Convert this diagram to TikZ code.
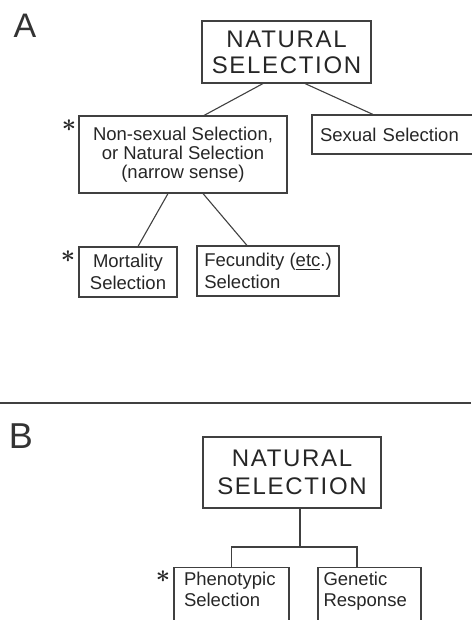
\documentclass[tikz,border=0pt]{standalone}
\usepackage{amsmath}
\usepackage{fontspec}
\setmainfont{Liberation Sans}
\newfontfamily\capsfont{Liberation Sans}[LetterSpace=7]
\begin{document}
\begin{tikzpicture}[x=1pt,y=-1pt]

        \useasboundingbox (0,0) rectangle (471,620);

        % panel letters and divider
        \node[text=black!80] (A) at (25,25.5) {\fontsize{34}{34}\selectfont A};
        \node[text=black!80] (B) at (21,436.5) {\fontsize{36}{36}\selectfont B};
        \draw[black!75,line width=1.1pt] (0,403) -- (471,403);

        \begin{scope}[every node/.style={draw=black!75,line width=1.1pt,text=black!85,inner sep=0pt,
                      font=\fontsize{18.5}{19}\selectfont}]
          \node (topA) at (286.5,52) [minimum width=169pt,minimum height=62pt,align=center,
                font=\capsfont\fontsize{24}{26}\selectfont] {NATURAL\\SELECTION};
          \node (nonsex) at (183,154.5) [minimum width=208pt,minimum height=77pt,align=center]
                {Non-sexual Selection,\\or Natural Selection\\(narrow sense)};
          \node (sexual) at (396,134.5) [text width=152pt,inner xsep=8pt,minimum height=39pt,align=left]
                {Sexual Selection};
          \node (mort) at (128,272) [minimum width=98pt,minimum height=50pt,align=center,
                font=\fontsize{18.5}{22}\selectfont] {Mortality\\Selection};
          \node (fec) at (268,271) [minimum width=142pt,minimum height=50pt,align=left,
                font=\fontsize{18.5}{22}\selectfont] {Fecundity (\underline{etc}.)\\Selection};

          \node (topB) at (292,472.5) [minimum width=178pt,minimum height=71pt,align=center,
                font=\capsfont\fontsize{24}{28}\selectfont] {NATURAL\\SELECTION};
          \node (phen) at (231.5,567) [anchor=north,minimum width=115pt,inner ysep=5pt,
                font=\fontsize{18.5}{21}\selectfont] {\parbox[t][46pt][t]{95pt}{Phenotypic\\Selection}};
          \node (gen) at (369.5,567) [anchor=north,minimum width=103pt,inner ysep=5pt,
                font=\fontsize{18.5}{21}\selectfont] {\parbox[t][46pt][t]{92pt}{Genetic\\Response}};
        \end{scope}

        % asterisks
        \begin{scope}[every node/.style={text=black!85,inner sep=0pt,font=\fontsize{36}{36}\selectfont}]
          \node (starNon)  at (69,126) {$\boldsymbol{\ast}$};
          \node (starMort) at (68,257) {$\boldsymbol{\ast}$};
          \node (starPhen) at (163,577) {$\boldsymbol{\ast}$};
        \end{scope}

        \begin{scope}[every edge/.style={draw,black!75,line width=1.1pt}]
          \path ([xshift=-23.5pt]topA.south) edge ([xshift=21pt]nonsex.north);
          \path ([xshift=18.5pt]topA.south)  edge ([xshift=-23pt]sexual.north);
          \path ([xshift=-15pt]nonsex.south) edge ([xshift=10pt]mort.north);
          \path ([xshift=20pt]nonsex.south)  edge ([xshift=-21pt]fec.north);
        \end{scope}

        \coordinate (fork) at (300,547);
        \draw[black!75,line width=1.1pt] ([xshift=8pt]topB.south) -- (fork);
        \draw[black!75,line width=1.1pt] (phen.north) |- (fork) -| ([xshift=-12.5pt]gen.north);

      \end{tikzpicture}
\end{document}
